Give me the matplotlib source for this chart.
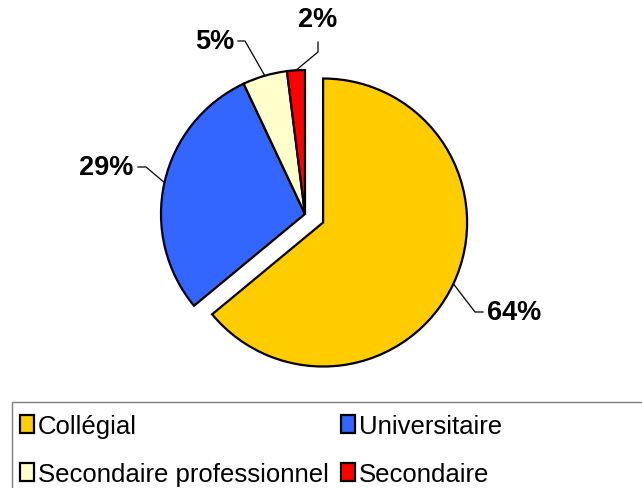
import matplotlib
matplotlib.use("Agg")
import matplotlib.pyplot as plt
import numpy as np
from matplotlib.patches import Rectangle

categories = ["Collégial", "Universitaire", "Secondaire professionnel", "Secondaire"]
values = [64, 29, 5, 2]
colors = ["#FFCC00", "#3366FF", "#FFFFCC", "#FF0000"]

plt.rcParams['font.family'] = ['Liberation Sans', 'DejaVu Sans']

W, H = 642, 489
fig = plt.figure(figsize=(W / 100, H / 100), dpi=100)
ax = fig.add_axes([0, 0, 1, 1])

def Y(y):
    return H - y

cx, cy, r = 305, 215, 144
wedges, _ = ax.pie(values, colors=colors, startangle=90, counterclock=False,
                   radius=r, center=(cx, Y(cy)), explode=[20, 0, 0, 0],
                   wedgeprops=dict(edgecolor='black', linewidth=1.6),
                   frame=True)
ax.set_xlim(0, W)
ax.set_ylim(0, H)
ax.set_aspect('equal')
ax.axis('off')

# label text positions (pixels) and elbow points
label_pos = [(514, 313), (106, 168), (215, 42), (318, 20)]
elbows = [[(475, 313), (483, 313)], [(146, 168), (138, 168)], [(245, 42), (238, 42)], [(318, 53), (318, 43)]]

for w, v, (tx, ty), elb in zip(wedges, values, label_pos, elbows):
    ang = np.deg2rad((w.theta1 + w.theta2) / 2)
    ex = w.center[0] + w.r * np.cos(ang)
    ey = w.center[1] + w.r * np.sin(ang)
    xs = [ex] + [p[0] for p in elb]
    ys = [ey] + [Y(p[1]) for p in elb]
    ax.plot(xs, ys, color='black', lw=0.9)
    ax.text(tx, Y(ty), f"{v}%", ha='center', va='center', fontsize=19.5, fontweight='bold')

# legend frame
ax.add_patch(Rectangle((11.5, -20), 800, Y(403) + 20, fill=False, edgecolor='#7f7f7f', lw=1.0))

# legend filled row-wise (matplotlib fills column-wise)
order = [0, 2, 1, 3]
leg = ax.legend([wedges[i] for i in order], [categories[i] for i in order], ncol=2, loc='upper left',
                bbox_to_anchor=(20, Y(415)), bbox_transform=ax.transData,
                frameon=False, fontsize=18.5, handlelength=0.55, handleheight=0.7,
                handletextpad=0.16, columnspacing=0.45, labelspacing=0.95,
                borderpad=0, borderaxespad=0)

fig.savefig("out.png", dpi=100)
